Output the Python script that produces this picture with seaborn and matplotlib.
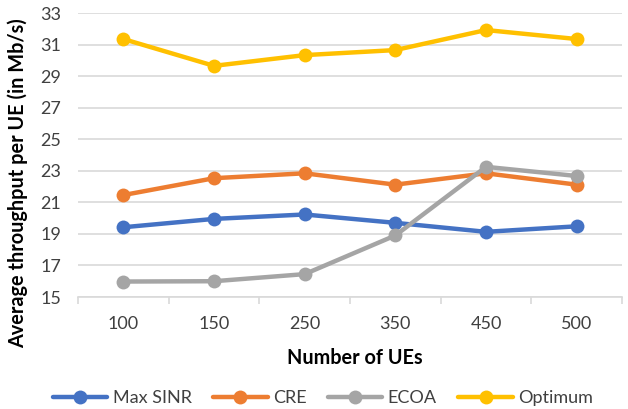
import matplotlib
matplotlib.use("Agg")
import matplotlib.pyplot as plt
import seaborn as sns
import pandas as pd
import numpy as np

ues = ["100", "150", "250", "350", "450", "500"]
max_sinr = [19.42, 19.95, 20.23, 19.70, 19.13, 19.48]
cre = [21.46, 22.53, 22.84, 22.12, 22.84, 22.12]
ecoa = [15.98, 16.0, 16.45, 18.90, 23.25, 22.67]
optimum = [31.35, 29.65, 30.33, 30.65, 31.92, 31.35]

series = {"Max SINR": max_sinr, "CRE": cre, "ECOA": ecoa, "Optimum": optimum}
palette = {"Max SINR": "#4472C4", "CRE": "#ED7D31", "ECOA": "#A5A5A5", "Optimum": "#FFC000"}

rows = []
for name, vals in series.items():
    for i, v in enumerate(vals):
        rows.append({"pos": i, "Scheme": name, "value": v})
df = pd.DataFrame(rows)

sns.set_theme(style="white")
plt.rcParams["font.family"] = ["Lato", "DejaVu Sans"]

W, H = 628, 409
fig = plt.figure(figsize=(W / 100, H / 100), dpi=100)
ax = fig.add_axes([78 / W, 1 - 297 / H, (622 - 78) / W, (297 - 13) / H])

sns.lineplot(data=df, x="pos", y="value", hue="Scheme", palette=palette,
             hue_order=list(series.keys()), marker="o", markersize=10,
             markeredgewidth=0, linewidth=3.2, ax=ax, legend=True)

ax.set_xlim(-0.5, 5.5)
ax.set_ylim(15, 33)
ax.set_yticks(np.arange(15, 34, 2))
ax.set_xticks(range(len(ues)))
ax.set_xticklabels(ues)
ax.set_xticks(np.arange(-0.5, 6, 1), minor=True)

ax.grid(axis="y", color="#d9d9d9", linewidth=1.2)
ax.set_axisbelow(True)
for s in ["top", "right", "left"]:
    ax.spines[s].set_visible(False)
ax.spines["bottom"].set_color("#d9d9d9")
ax.spines["bottom"].set_linewidth(1.2)

ax.tick_params(axis="y", length=0, pad=12, labelsize=13, labelcolor="#404040")
ax.tick_params(axis="x", which="major", length=0, pad=14, labelsize=13, labelcolor="#404040")
ax.tick_params(axis="x", which="minor", length=5, width=1.2, color="#d9d9d9",
               direction="out", bottom=True)

ax.set_xlabel("Number of UEs", fontsize=14.3, fontweight="bold", color="#000000")
ax.set_ylabel("Average throughput per UE (in Mb/s)", fontsize=14.3, fontweight="bold",
              color="#000000")
ax.xaxis.label.set_va("center")
ax.yaxis.label.set_va("center")
ax.yaxis.label.set_ha("center")
ax.xaxis.set_label_coords(0.5 + 5 / 544, (H - 358.5 - (H - 297)) / 284)
ax.yaxis.set_label_coords((17.5 - 78) / 544, (H - 183 - (H - 297)) / 284)

handles, labels = ax.get_legend_handles_labels()
ax.legend(handles, labels, loc="center", bbox_to_anchor=((323 - 78) / 544, (H - 398 - (H - 297)) / 284),
          ncol=4, frameon=False, fontsize=13, handlelength=3.0, columnspacing=1.2,
          handletextpad=0.3, labelcolor="#404040", borderpad=0, borderaxespad=0)

fig.savefig("out.png", dpi=100)
